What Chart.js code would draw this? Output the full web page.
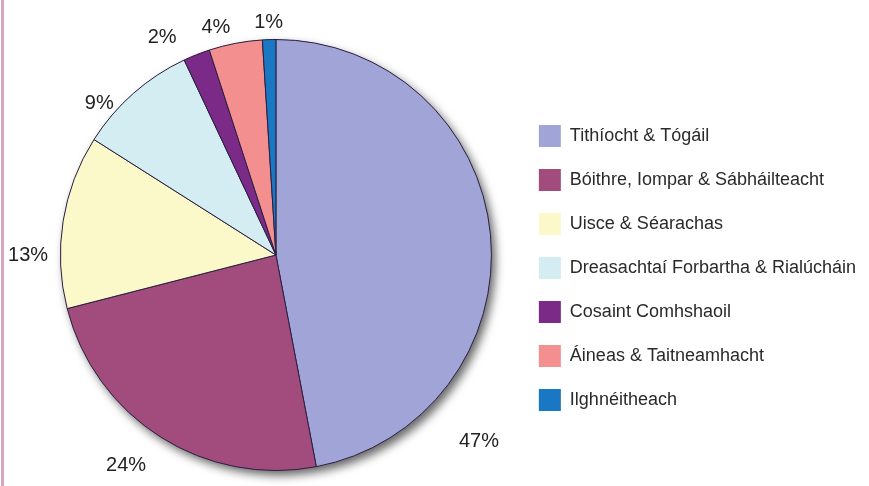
<!DOCTYPE html>
<html>
<head>
<meta charset="utf-8">
<script src="https://cdn.jsdelivr.net/npm/chart.js@4/dist/chart.umd.min.js"></script>
<style>
  html, body { margin: 0; padding: 0; background: #fff; }
  #wrap { position: relative; width: 869px; height: 486px; }
  #wrap:before { content: ''; position: absolute; left: 1px; top: 0; width: 3px; height: 486px; background: #dba6bf; }
</style>
</head>
<body>
<div id="wrap"><canvas id="pie" width="869" height="486"></canvas></div>
<script>
const categories = [
    'Tithíocht & Tógáil',
    'Bóithre, Iompar & Sábháilteacht',
    'Uisce & Séarachas',
    'Dreasachtaí Forbartha & Rialúcháin',
    'Cosaint Comhshaoil',
    'Áineas & Taitneamhacht',
    'Ilghnéitheach'
];
const shares = [47, 24, 13, 9, 2, 4, 1];
const sliceColors = ['#a1a4d7', '#a24c7e', '#fbf8c9', '#d4edf3', '#7b2a87', '#f3908f', '#1977c3'];

// where each % label sits: angle shift from slice middle (deg), distance as share of radius
const labelShift = [48, 3, -9, -8, -6, -4, 0];
const labelDist = [1.28, 1.2, 1.15, 1.08, 1.14, 1.09, 1.08];

const pieShadow = {
    id: 'pieShadow',
    beforeDatasetsDraw(chart) {
        const arc = chart.getDatasetMeta(0).data[0];
        if (!arc) return;
        const ctx = chart.ctx;
        ctx.save();
        ctx.shadowColor = 'rgba(0,0,0,0.6)';
        ctx.shadowBlur = 10;
        ctx.shadowOffsetX = 4;
        ctx.shadowOffsetY = 5;
        ctx.fillStyle = '#777';
        ctx.beginPath();
        ctx.arc(arc.x, arc.y, arc.outerRadius, 0, Math.PI * 2);
        ctx.fill();
        ctx.restore();
    }
};

const pctLabels = {
    id: 'pctLabels',
    afterDatasetsDraw(chart) {
        const ctx = chart.ctx;
        ctx.save();
        ctx.font = '20px "Liberation Sans", Arial, sans-serif';
        ctx.fillStyle = '#222';
        ctx.textAlign = 'center';
        ctx.textBaseline = 'middle';
        chart.getDatasetMeta(0).data.forEach((arc, i) => {
            const mid = (arc.startAngle + arc.endAngle) / 2 + labelShift[i] * Math.PI / 180;
            const r = arc.outerRadius * labelDist[i];
            ctx.fillText(shares[i] + '%', arc.x + Math.cos(mid) * r, arc.y + Math.sin(mid) * r);
        });
        ctx.restore();
    }
};

new Chart(document.getElementById('pie'), {
    type: 'pie',
    data: {
        labels: categories,
        datasets: [{
            data: shares,
            backgroundColor: sliceColors,
            borderColor: '#2a2040',
            borderWidth: 1
        }]
    },
    options: {
        responsive: false,
        animation: false,
        layout: { padding: { left: 35, right: 3, top: 39, bottom: 15 } },
        plugins: {
            tooltip: { enabled: false },
            legend: {
                position: 'right',
                title: {
                    display: true,
                    text: '',
                    font: { size: 12, lineHeight: 1 },
                    padding: { top: 7, bottom: 7 }
                },
                labels: {
                    boxWidth: 22,
                    boxHeight: 22,
                    padding: 22,
                    color: '#2a2a2a',
                    font: { family: '"Liberation Sans", Arial, sans-serif', size: 18 },
                    generateLabels(chart) {
                        return categories.map((name, i) => ({
                            text: name,
                            fillStyle: sliceColors[i],
                            strokeStyle: sliceColors[i],
                            lineWidth: 0,
                            fontColor: '#2a2a2a',
                            hidden: false,
                            index: i
                        }));
                    }
                }
            }
        }
    },
    plugins: [pieShadow, pctLabels]
});
</script>
</body>
</html>
